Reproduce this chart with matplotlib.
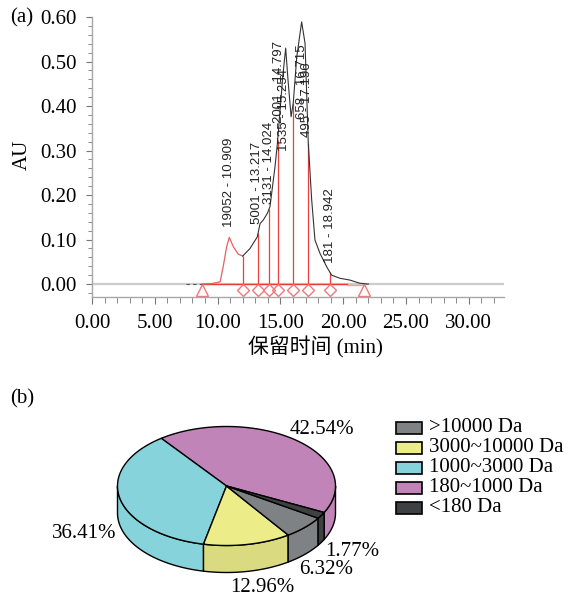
import numpy as np
import matplotlib
matplotlib.use("Agg")
import matplotlib.pyplot as plt
from matplotlib.patches import Polygon, Rectangle
from matplotlib.ticker import MultipleLocator, FormatStrFormatter

plt.rcParams["font.family"] = ["Liberation Serif", "Noto Sans CJK SC"]

# (a) GPC chromatogram
rt = [7.5, 8.2, 8.75, 9.5, 10.2, 10.45, 10.72, 10.93, 11.25, 11.65, 12.0, 12.58,
      13.16, 13.38, 13.64, 13.96, 14.17, 14.57, 14.76, 14.97, 15.2, 15.42, 15.6,
      15.85, 16.02, 16.3, 16.69, 16.96, 17.22, 17.49, 17.75, 18.15, 18.68, 19.08,
      19.75, 20.54, 21.3, 22.0]
au = [0.0, 0.0, 0.0, 0.001, 0.005, 0.04, 0.084, 0.105, 0.084, 0.067, 0.063, 0.080,
      0.106, 0.136, 0.144, 0.159, 0.174, 0.264, 0.316, 0.390, 0.470, 0.530, 0.460,
      0.376, 0.406, 0.510, 0.589, 0.541, 0.316, 0.189, 0.099, 0.069, 0.039, 0.020,
      0.013, 0.009, 0.002, 0.0]
split_rt = 12.0
drop_rt = [12.0, 13.22, 14.1, 14.78, 16.02, 17.22, 18.95]
start_rt, end_rt = 8.75, 21.65
red_base_end = 20.3

peak_labels = ["19052 - 10.909", "5001 - 13.217", "3131 - 14.024", "2001 - 14.797",
               "1535 - 15.254", "658 - 16.715", "495 - 17.196", "181 - 18.942"]
peak_label_rt = [10.93, 13.16, 14.07, 14.88, 15.3, 16.72, 17.12, 18.95]
peak_label_au = [0.129, 0.136, 0.18, 0.362, 0.30, 0.37, 0.33, 0.047]

# (b) molecular weight distribution
mw_classes = [">10000 Da", "3000~10000 Da", "1000~3000 Da", "180~1000 Da", "<180 Da"]
mw_pct = [6.32, 12.96, 36.41, 42.54, 1.77]
top_colors = ["#7f8284", "#ecec88", "#86d3db", "#c184b8", "#3f4042"]
side_colors = ["#7f8284", "#dadb80", "#86d3db", "#c184b8", "#3f4042"]
pie_order = [3, 2, 1, 0, 4]

fig = plt.figure(figsize=(5.68, 5.95), dpi=100)
W, H = 568, 595

# ---- panel (a)
ax = fig.add_axes([92 / W, 1 - 297 / H, (504 - 92) / W, (297 - 17) / H])
rt = np.array(rt)
au = np.array(au)

ax.axhline(0, color="#cccccc", lw=1.6, zorder=1)
pre = rt <= start_rt
red = (rt >= start_rt) & (rt <= split_rt)
blk = rt >= split_rt
ax.plot(rt[pre], au[pre], color="#555555", lw=0.8, ls=(0, (3, 3)), zorder=3)
ax.plot(rt[red], au[red], color="#e86060", lw=0.9, zorder=3)
ax.plot(rt[blk], au[blk], color="#333333", lw=0.8, zorder=3)

ax.plot([start_rt, red_base_end], [0, 0], color="#e83a3a", lw=1.0, zorder=2)
ax.plot([red_base_end, end_rt], [-0.003, -0.003], color="#f0a0a0", lw=1.0, zorder=2)
ax.vlines(drop_rt, 0, np.interp(drop_rt, rt, au), color="#e84040", lw=0.9, zorder=2)
ax.plot(drop_rt, [-0.014] * len(drop_rt), ls="none", marker="D", ms=6,
        mfc="none", mec="#f07878", mew=1.0, clip_on=False)
ax.plot([start_rt, end_rt], [-0.014, -0.014], ls="none", marker="^", ms=8,
        mfc="none", mec="#f07878", mew=1.0, clip_on=False)

for s, t, y in zip(peak_labels, peak_label_rt, peak_label_au):
    ax.text(t, y, s, rotation=90, ha="center", va="bottom", fontsize=9.5,
            family="Liberation Sans", color="#222222")

ax.set_xlim(0, 32.8)
ax.set_ylim(-0.029, 0.60)
ax.xaxis.set_major_locator(MultipleLocator(5))
ax.xaxis.set_minor_locator(MultipleLocator(1))
ax.yaxis.set_major_locator(MultipleLocator(0.1))
ax.yaxis.set_minor_locator(MultipleLocator(0.02))
ax.xaxis.set_major_formatter(FormatStrFormatter("%.2f"))
ax.yaxis.set_major_formatter(FormatStrFormatter("%.2f"))
for side in ["top", "right"]:
    ax.spines[side].set_visible(False)
for side in ["left", "bottom"]:
    ax.spines[side].set_color("#a8a8a8")
    ax.spines[side].set_linewidth(1.0)
ax.tick_params(which="both", colors="#777777", labelcolor="black", labelsize=15)
ax.tick_params(axis="y", which="major", length=4, pad=7)
ax.tick_params(axis="y", which="minor", length=3)
ax.tick_params(axis="x", which="major", length=5, pad=7)
ax.tick_params(axis="x", which="minor", length=4)

fig.text(22 / W, 1 - 155 / H, "AU", rotation=90, ha="center", va="center", fontsize=15)
fig.text(315 / W, 1 - 347 / H, "保留时间 (min)", ha="center", va="center", fontsize=15)
fig.text(22 / W, 1 - 18 / H, "(a)", ha="center", va="center", fontsize=15)
fig.text(22 / W, 1 - 399 / H, "(b)", ha="center", va="center", fontsize=15)

# ---- panel (b): 3D pie drawn in pixel space
ax2 = fig.add_axes([0, 0, 1, 1])
ax2.set_xlim(0, W)
ax2.set_ylim(H, 0)
ax2.axis("off")

cx, cy, ra, rb, depth = 226.5, 486, 109, 59.5, 27
start_angle = -26.4


def arc(t1, t2):
    th = np.radians(np.linspace(t1, t2, 80))
    return cx + ra * np.cos(th), cy - rb * np.sin(th)


angle = start_angle
slices = []
for i in pie_order:
    sweep = mw_pct[i] / sum(mw_pct) * 360
    slices.append((i, angle, angle + sweep))
    angle += sweep

for i, t1, t2 in slices:
    for lo, hi in [(-180, 0), (180, 360)]:
        l, h = max(t1, lo), min(t2, hi)
        if h > l:
            x, y = arc(l, h)
            pts = np.column_stack([np.r_[x, x[::-1]], np.r_[y, y[::-1] + depth]])
            ax2.add_patch(Polygon(pts, closed=True, fc=side_colors[i], ec="black",
                                  lw=1.0, joinstyle="round"))
for i, t1, t2 in slices:
    x, y = arc(t1, t2)
    pts = np.column_stack([np.r_[cx, x], np.r_[cy, y]])
    ax2.add_patch(Polygon(pts, closed=True, fc=top_colors[i], ec="black",
                          lw=1.0, joinstyle="round"))

pct_xy = [(326, 570), (262, 587), (84, 533), (322, 430), (352, 551)]
for p, (x, y) in zip(mw_pct, pct_xy):
    ax2.text(x, y, f"{p:.2f}%", ha="center", va="center", fontsize=15)

for k, (name, c) in enumerate(zip(mw_classes, top_colors)):
    y = 428 + 20 * k
    ax2.add_patch(Rectangle((396, y - 6), 26, 12, fc=c, ec="black", lw=1.2))
    ax2.text(429, y, name, ha="left", va="center", fontsize=15)

fig.savefig("out.png", dpi=100)
